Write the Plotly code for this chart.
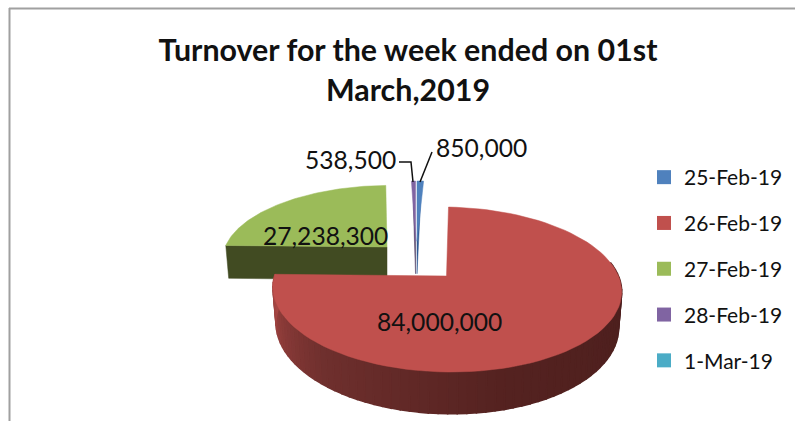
import numpy as np
import plotly.graph_objects as go

categories = ["25-Feb-19", "26-Feb-19", "27-Feb-19", "28-Feb-19", "1-Mar-19"]
values = [850000, 84000000, 27238300, 538500, 0]
value_labels = ["850,000", "84,000,000", "27,238,300", "538,500"]
title_text = "Turnover for the week ended on 01st<br>March,2019"

top_colors = ["#4F81BD", "#C0504D", "#9BBB59", "#8064A2", "#4BACC6"]
side_colors = ["#2F5B94", None, "#414B22", "#4D3C62", None]

FONT = "Lato"
CX, CY = 446.5, 276.0   # screen position of the pie centre
RX, RY, K, H = 172.0, 80.3, 0.1636, 35.0
TAPER = 0.018
# explosion of each slice: screen dx, depth offset, lean of the depth axis
explode = [(-29.5, 0.466, 0.0), (0.0, 0.0, 5.0), (-59.5, 0.384, -3.0),
           (-31.0, 0.466, 0.0), (0.0, 0.0, 0.0)]

total = sum(values)
ends = np.cumsum(values) / total * 2 * np.pi
starts = np.concatenate([[0], ends[:-1]])


def project(i, u, v, drop=0.0):
    dx, dv, lean = explode[i]
    w = 1 + K * (v + dv)
    x = (RX * u / w - lean * v) * (1 - TAPER * drop)
    return CX + dx + x, CY - RY * (v + dv) / w + drop * H / w


def arc_points(i, a, b, n=90, drop=0.0):
    t = np.linspace(a, b, n)
    return project(i, np.sin(t), np.cos(t), drop)


def poly(x, y, color, lw=0.5):
    return go.Scatter(x=list(x) + [x[0]], y=list(y) + [y[0]], mode="lines", fill="toself",
                      fillcolor=color, line=dict(color=color, width=lw),
                      showlegend=False, hoverinfo="skip")


def wedge(i):
    ax, ay = project(i, 0.0, 0.0)
    ux, uy = arc_points(i, starts[i], ends[i])
    return poly([ax, *ux], [ay, *uy], top_colors[i])


def cut_face(i, angle):
    ax, ay = project(i, 0.0, 0.0)
    bx, by = project(i, 0.0, 0.0, 1.0)
    rx, ry = project(i, np.sin(angle), np.cos(angle))
    sx, sy = project(i, np.sin(angle), np.cos(angle), 1.0)
    return poly([ax, rx, sx, bx], [ay, ry, sy, by], side_colors[i])


def mix(t):
    stops = [(0.0, (74, 30, 29)), (0.45, (84, 34, 32)), (0.75, (112, 48, 46)), (1.0, (166, 70, 67))]
    for (t0, c0), (t1, c1) in zip(stops, stops[1:]):
        if t <= t1:
            f = (t - t0) / (t1 - t0)
            return "rgb(%d,%d,%d)" % tuple(round(a + (b - a) * f) for a, b in zip(c0, c1))
    return "rgb(166,70,67)"


fig = go.Figure()

# green slice
fig.add_trace(cut_face(2, starts[2]))
fig.add_trace(wedge(2))
# thin slices
for i in (3, 0):
    fig.add_trace(cut_face(i, (starts[i] + ends[i]) / 2))
    fig.add_trace(wedge(i))

# red rim, shaded from dark right to lighter left
edges = np.linspace(np.radians(80), ends[1], 71)
for a, b in zip(edges[:-1], edges[1:]):
    tx, ty = arc_points(1, a, b, 4)
    bx, by = arc_points(1, b, a, 4, 1.0)
    t = (b - edges[0]) / (edges[-1] - edges[0])
    fig.add_trace(poly([*tx, *bx], [*ty, *by], mix(t), lw=1.5))
fig.add_trace(wedge(1))

# leader lines
fig.add_trace(go.Scatter(x=[399, 411, 413], y=[162, 162, 182], mode="lines",
                         line=dict(color="#111111", width=1.5), showlegend=False, hoverinfo="skip"))
fig.add_trace(go.Scatter(x=[432, 420], y=[152, 182], mode="lines",
                         line=dict(color="#111111", width=1.5), showlegend=False, hoverinfo="skip"))

# legend entries
for name, color in zip(categories, top_colors):
    fig.add_trace(go.Scatter(x=[None], y=[None], mode="markers", name=name, legendgroup=name,
                             marker=dict(symbol="square", size=14, color=color)))

label_pos = [(481, 147), (439, 321), (325, 235), (350, 159)]
annotations = [dict(x=x, y=y, text=t, showarrow=False, xanchor="center", yanchor="middle",
                    font=dict(family=FONT, size=24.6, color="#111111"))
               for (x, y), t in zip(label_pos, value_labels)]

fig.update_layout(
    width=795, height=421, autosize=False,
    margin=dict(l=0, r=0, t=0, b=0),
    paper_bgcolor="white", plot_bgcolor="white",
    title=dict(text=title_text, x=408 / 795, xanchor="center", y=1 - 61 / 421, yanchor="middle",
               font=dict(family=FONT, size=30.4, color="#111111", weight="bold")),
    xaxis=dict(range=[0, 795], visible=False, fixedrange=True, domain=[0, 1]),
    yaxis=dict(range=[421, 0], visible=False, fixedrange=True, domain=[0, 1]),
    legend=dict(x=644 / 795, y=1 - 157 / 421, xanchor="left", yanchor="top",
                font=dict(family=FONT, size=21, color="#111111"),
                tracegroupgap=15.5, bgcolor="rgba(0,0,0,0)", itemclick=False, itemdoubleclick=False),
    annotations=annotations,
    shapes=[dict(type="line", xref="x", yref="y", x0=9.5, x1=9.5, y0=8, y1=421,
                 line=dict(color="#A0A0A0", width=2)),
            dict(type="line", xref="x", yref="y", x0=9, x1=795, y0=8.5, y1=8.5,
                 line=dict(color="#A0A0A0", width=2))],
)

fig.write_html("out.html", config={"displayModeBar": False},
               post_script="document.body.style.margin='0';document.body.style.overflow='hidden';")
